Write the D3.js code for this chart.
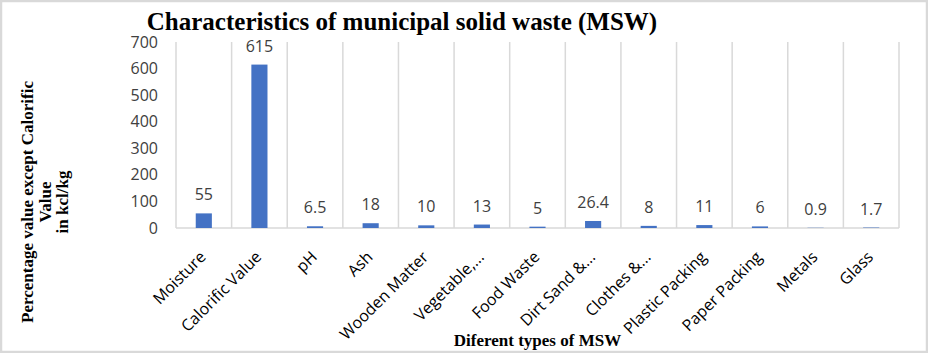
<!DOCTYPE html>
<html>
<head>
<meta charset="utf-8">
<script src="https://cdn.jsdelivr.net/npm/d3@7"></script>
<style>
  body { margin: 0; background: #fff; }
  svg { display: block; }
</style>
</head>
<body>
<div id="chart"></div>
<script>
let categories = ["Moisture", "Calorific Value", "pH", "Ash", "Wooden Matter", "Vegetable,...",
    "Food Waste", "Dirt Sand &...", "Clothes &...", "Plastic Packing", "Paper Packing", "Metals", "Glass"];
let values = [55, 615, 6.5, 18, 10, 13, 5, 26.4, 8, 11, 6, 0.9, 1.7];
let valueLabels = ["55", "615", "6.5", "18", "10", "13", "5", "26.4", "8", "11", "6", "0.9", "1.7"];
let yTicks = [0, 100, 200, 300, 400, 500, 600, 700];

let width = 928;
let height = 353;
let margin = {top: 42, right: 29, bottom: 125, left: 176};

let svg = d3.select("#chart")
    .append("svg")
    .attr("width", width)
    .attr("height", height);

// outer frame
svg.append("rect")
    .attr("x", 1)
    .attr("y", 1)
    .attr("width", width - 2)
    .attr("height", height - 2)
    .attr("fill", "#fff")
    .attr("stroke", "#d9d9d9")
    .attr("stroke-width", 2.5);

let x = d3.scaleBand()
    .domain(categories)
    .range([margin.left, width - margin.right])
    .paddingInner(0.71)
    .paddingOuter(0.355);

let xCell = d3.scaleBand()
    .domain(categories)
    .range([margin.left, width - margin.right]);

let y = d3.scaleLinear()
    .domain([0, 700])
    .range([height - margin.bottom, margin.top]);

// vertical gridlines at category edges
let edges = categories.map(c => xCell(c)).concat([width - margin.right]);
svg.append("g")
    .selectAll("line")
    .data(edges)
    .enter().append("line")
    .attr("x1", d => d)
    .attr("x2", d => d)
    .attr("y1", y(700))
    .attr("y2", y(0))
    .attr("stroke", "#d9d9d9")
    .attr("stroke-width", 1.5);

// baseline
svg.append("line")
    .attr("x1", margin.left)
    .attr("x2", width - margin.right)
    .attr("y1", y(0))
    .attr("y2", y(0))
    .attr("stroke", "#d9d9d9")
    .attr("stroke-width", 1.5);

// y tick labels
svg.append("g")
    .selectAll("text")
    .data(yTicks)
    .enter().append("text")
    .attr("x", 158)
    .attr("y", d => y(d))
    .attr("dy", "0.35em")
    .attr("text-anchor", "end")
    .style("font-family", "'Open Sans', sans-serif")
    .style("font-size", "16px")
    .attr("fill", "#404040")
    .text(d => d);

// bars
svg.append("g")
    .selectAll("rect")
    .data(values)
    .enter().append("rect")
    .attr("x", (d, i) => x(categories[i]))
    .attr("y", d => y(d))
    .attr("width", x.bandwidth())
    .attr("height", d => y(0) - y(d))
    .attr("fill", "#4472c4");

// data labels
svg.append("g")
    .selectAll("text")
    .data(values)
    .enter().append("text")
    .attr("x", (d, i) => xCell(categories[i]) + xCell.bandwidth() / 2)
    .attr("y", d => y(d) - 13)
    .attr("text-anchor", "middle")
    .style("font-family", "'Open Sans', sans-serif")
    .style("font-size", "16px")
    .attr("fill", "#404040")
    .text((d, i) => valueLabels[i]);

// category labels, rotated
svg.append("g")
    .selectAll("text")
    .data(categories)
    .enter().append("text")
    .attr("transform", d => "translate(" + (xCell(d) + xCell.bandwidth() / 2 + 3) + "," + 258 + ") rotate(-45)")
    .attr("text-anchor", "end")
    .style("font-family", "'Open Sans', sans-serif")
    .style("font-size", "16px")
    .attr("fill", "#000")
    .text(d => d);

// title
svg.append("text")
    .attr("x", 402)
    .attr("y", 30)
    .attr("text-anchor", "middle")
    .style("font-family", "'Liberation Serif', 'Times New Roman', serif")
    .style("font-weight", "bold")
    .style("font-size", "25px")
    .text("Characteristics of municipal solid waste (MSW)");

// x axis title
svg.append("text")
    .attr("x", (margin.left + width - margin.right) / 2)
    .attr("y", 346)
    .attr("text-anchor", "middle")
    .style("font-family", "'Liberation Serif', 'Times New Roman', serif")
    .style("font-weight", "bold")
    .style("font-size", "17px")
    .text("Diferent types of MSW");

// y axis title, three lines
let yTitle = ["Percentage value except Calorific", "Value", "in kcl/kg"];
svg.append("g")
    .attr("transform", "translate(33,202) rotate(-90)")
    .selectAll("text")
    .data(yTitle)
    .enter().append("text")
    .attr("x", 0)
    .attr("y", (d, i) => i * 17.5)
    .attr("text-anchor", "middle")
    .style("font-family", "'Liberation Serif', 'Times New Roman', serif")
    .style("font-weight", "bold")
    .style("font-size", "17px")
    .text(d => d);
</script>
</body>
</html>
